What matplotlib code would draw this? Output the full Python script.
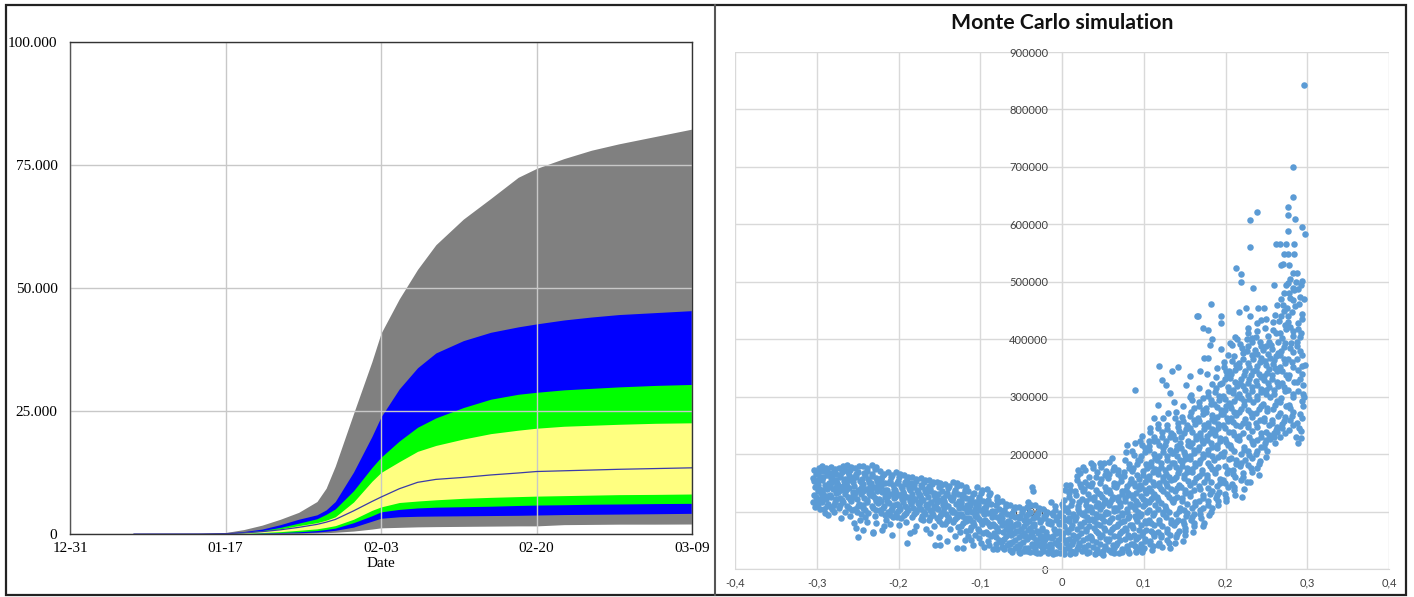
import numpy as np
import matplotlib
matplotlib.use("Agg")
import matplotlib.pyplot as plt
from matplotlib.patches import Rectangle
from matplotlib.lines import Line2D

# ---- left panel: sensitivity bands ----
days = [0, 7, 14, 17, 19, 21, 23, 25, 27, 28, 29, 31, 33, 34, 36, 38, 40, 43, 46, 49, 51, 54, 57, 60, 64, 68]
date_ticks = [0, 17, 34, 51, 68]
date_labels = ["12-31", "01-17", "02-03", "02-20", "03-09"]

gray_hi = [0, 0, 60, 300, 900, 1800, 3000, 4400, 6600, 9300, 13800, 24500, 35000, 40800, 47800, 53800, 58800,
           64000, 68200, 72500, 74300, 76300, 78000, 79300, 80800, 82300]
blue_hi = [0, 0, 40, 170, 500, 1000, 1900, 3000, 3900, 4900, 6600, 12600, 19800, 23800, 29500, 33800, 36800,
           39300, 41000, 42100, 42700, 43500, 44100, 44600, 45000, 45400]
green_hi = [0, 0, 30, 120, 350, 700, 1350, 2200, 3100, 4000, 5100, 8800, 13500, 15600, 18900, 21700, 23600,
            25700, 27400, 28400, 28800, 29300, 29600, 29900, 30200, 30400]
yellow_hi = [0, 0, 20, 90, 280, 560, 1050, 1700, 2300, 2800, 3500, 6500, 10700, 12500, 14700, 16800, 18000,
             19300, 20400, 21100, 21500, 21900, 22100, 22300, 22500, 22600]
median = [0, 0, 15, 70, 230, 480, 850, 1350, 1950, 2400, 2950, 4700, 6600, 7500, 9200, 10500, 11100,
          11500, 12000, 12400, 12700, 12850, 13000, 13150, 13300, 13450]
yellow_lo = [0, 0, 8, 40, 140, 300, 480, 750, 1050, 1350, 1700, 3000, 4800, 5500, 6400, 6700, 6950,
             7250, 7450, 7600, 7700, 7800, 7900, 8000, 8050, 8130]
green_lo = [0, 0, 5, 25, 80, 180, 300, 450, 700, 920, 1200, 2300, 3700, 4500, 5000, 5300, 5450,
            5550, 5650, 5800, 5880, 5950, 6050, 6100, 6180, 6230]
blue_lo = [0, 0, 2, 10, 40, 90, 160, 250, 400, 560, 750, 1400, 2600, 3200, 3500, 3600, 3650,
           3700, 3750, 3800, 3860, 3950, 4000, 4050, 4120, 4200]
gray_lo = [0, 0, 0, 0, 5, 20, 50, 100, 200, 270, 350, 600, 1000, 1250, 1350, 1450, 1500,
           1550, 1600, 1650, 1650, 1900, 1950, 2000, 2000, 2030]

# ---- right panel: Monte Carlo scatter, (x, y in thousands) ----
left_arm = [
    (-0.303,172),(-0.301,165),(-0.304,158),(-0.300,150),(-0.302,143),(-0.299,136),(-0.303,128),(-0.300,121),
    (-0.298,114),(-0.302,108),(-0.297,176),(-0.296,161),(-0.298,147),(-0.295,132),(-0.297,118),(-0.300,112),
    (-0.293,180),(-0.291,171),(-0.288,163),(-0.294,155),(-0.290,146),(-0.287,139),(-0.292,130),(-0.289,122),
    (-0.286,113),(-0.291,105),(-0.286,94),(-0.288,174),(-0.285,150),(-0.293,137),(-0.287,127),
    (-0.283,178),(-0.279,170),(-0.281,162),(-0.277,155),(-0.284,147),(-0.280,140),(-0.276,133),(-0.282,125),
    (-0.278,117),(-0.283,108),(-0.279,100),(-0.276,166),(-0.281,152),(-0.277,121),
    (-0.273,176),(-0.269,168),(-0.272,160),(-0.267,153),(-0.274,146),(-0.270,138),(-0.266,131),(-0.271,124),
    (-0.268,116),(-0.273,107),(-0.266,99),(-0.270,88),(-0.265,172),(-0.268,144),
    (-0.263,181),(-0.259,172),(-0.261,164),(-0.257,157),(-0.264,149),(-0.260,141),(-0.256,134),(-0.262,126),
    (-0.258,118),(-0.263,110),(-0.257,102),(-0.259,93),(-0.255,80),(-0.261,155),(-0.256,128),
    (-0.253,176),(-0.249,169),(-0.252,161),(-0.247,153),(-0.254,145),(-0.250,138),(-0.246,130),(-0.251,122),
    (-0.248,114),(-0.253,105),(-0.246,96),(-0.249,56),(-0.252,72),(-0.247,85),(-0.245,148),
    (-0.243,179),(-0.239,171),(-0.241,163),(-0.237,156),(-0.244,148),(-0.240,140),(-0.236,132),(-0.242,124),
    (-0.238,116),(-0.243,107),(-0.237,98),(-0.243,68),(-0.239,82),(-0.241,90),(-0.235,144),
    (-0.233,181),(-0.229,174),(-0.232,166),(-0.227,158),(-0.234,150),(-0.230,142),(-0.226,135),(-0.231,127),
    (-0.228,119),(-0.233,110),(-0.227,102),(-0.231,65),(-0.227,80),(-0.229,92),(-0.225,147),(-0.231,62),
    (-0.223,170),(-0.219,163),(-0.221,156),(-0.217,149),(-0.224,141),(-0.220,134),(-0.216,126),(-0.222,118),
    (-0.218,110),(-0.223,102),(-0.217,94),(-0.220,68),(-0.218,74),(-0.215,85),(-0.221,145),
    (-0.213,168),(-0.209,160),(-0.211,153),(-0.207,146),(-0.214,138),(-0.210,131),(-0.206,123),(-0.212,115),
    (-0.208,107),(-0.213,99),(-0.207,90),(-0.208,59),(-0.211,78),(-0.205,140),
    (-0.203,168),(-0.199,161),(-0.201,153),(-0.197,145),(-0.204,137),(-0.200,129),(-0.196,121),(-0.202,113),
    (-0.198,105),(-0.203,97),(-0.197,88),(-0.202,91),(-0.199,76),(-0.195,134),
    (-0.193,163),(-0.189,156),(-0.191,148),(-0.187,141),(-0.194,133),(-0.190,125),(-0.186,118),(-0.192,110),
    (-0.188,102),(-0.193,94),(-0.190,45),(-0.186,62),(-0.191,82),(-0.185,150),
    (-0.183,160),(-0.179,153),(-0.181,146),(-0.177,138),(-0.184,130),(-0.180,122),(-0.176,115),(-0.182,107),
    (-0.178,99),(-0.183,90),(-0.178,74),(-0.181,66),(-0.175,128),
    (-0.173,158),(-0.169,151),(-0.171,143),(-0.167,136),(-0.174,128),(-0.170,120),(-0.166,112),(-0.172,104),
    (-0.168,96),(-0.173,87),(-0.170,85),(-0.166,70),(-0.165,140),
    (-0.163,155),(-0.159,148),(-0.161,140),(-0.157,133),(-0.164,125),(-0.160,117),(-0.156,110),(-0.162,102),
    (-0.158,94),(-0.163,85),(-0.161,62),(-0.157,75),(-0.155,42),(-0.155,121),
    (-0.153,152),(-0.149,150),(-0.151,142),(-0.147,135),(-0.154,127),(-0.150,120),(-0.146,112),(-0.152,104),
    (-0.148,96),(-0.153,88),(-0.147,79),(-0.149,42),(-0.151,55),(-0.145,115),
    (-0.143,148),(-0.139,141),(-0.141,133),(-0.137,126),(-0.144,118),(-0.140,110),(-0.136,103),(-0.142,95),
    (-0.138,87),(-0.143,78),(-0.137,70),(-0.141,48),(-0.135,120),
    (-0.133,152),(-0.129,145),(-0.131,137),(-0.127,130),(-0.134,122),(-0.130,114),(-0.126,107),(-0.132,99),
    (-0.128,91),(-0.133,82),(-0.127,73),(-0.129,36),(-0.131,58),(-0.125,64),
    (-0.123,146),(-0.119,138),(-0.121,130),(-0.117,123),(-0.124,115),(-0.120,107),(-0.116,100),(-0.122,92),
    (-0.118,84),(-0.123,75),(-0.117,66),(-0.121,36),(-0.119,50),(-0.115,57),
    (-0.115,135),(-0.109,130),(-0.111,123),(-0.107,116),(-0.114,108),(-0.110,100),(-0.106,93),(-0.112,85),
    (-0.108,77),(-0.113,68),(-0.107,60),(-0.111,51),(-0.109,42),(-0.105,112),
    (-0.104,142),(-0.099,133),(-0.101,125),(-0.097,118),(-0.103,110),(-0.100,102),(-0.096,95),(-0.102,87),
    (-0.098,79),(-0.103,70),(-0.097,62),(-0.101,54),(-0.099,45),(-0.095,38),
    (-0.092,139),(-0.089,128),(-0.091,120),(-0.087,113),(-0.094,105),(-0.090,97),(-0.086,90),(-0.092,82),
    (-0.088,74),(-0.093,65),(-0.087,57),(-0.091,49),(-0.089,41),(-0.085,35),
    (-0.080,120),(-0.079,125),(-0.081,112),(-0.077,105),(-0.084,98),(-0.080,90),(-0.076,83),(-0.082,75),
    (-0.078,67),(-0.083,59),(-0.077,51),(-0.081,43),(-0.079,35),(-0.075,94),
    (-0.073,118),(-0.069,110),(-0.071,103),(-0.067,96),(-0.074,88),(-0.070,80),(-0.066,73),(-0.072,65),
    (-0.068,57),(-0.073,49),(-0.067,41),(-0.071,34),(-0.065,62),
    (-0.063,112),(-0.059,105),(-0.061,97),(-0.057,90),(-0.064,82),(-0.060,74),(-0.056,67),(-0.062,59),
    (-0.058,51),(-0.063,43),(-0.057,36),(-0.061,30),(-0.055,78),
    (-0.053,108),(-0.049,100),(-0.051,93),(-0.047,86),(-0.054,78),(-0.050,70),(-0.046,63),(-0.052,55),
    (-0.048,47),(-0.053,39),(-0.047,32),(-0.051,28),(-0.045,58),
]

left_arm_fill = [
    (-0.299,168),(-0.303,154),(-0.297,140),(-0.301,125),(-0.304,117),(-0.296,104),(-0.298,155),(-0.295,170),
    (-0.289,176),(-0.292,160),(-0.286,143),(-0.294,126),(-0.288,110),(-0.290,98),(-0.285,167),(-0.293,117),
    (-0.278,174),(-0.282,158),(-0.276,143),(-0.284,129),(-0.279,112),(-0.281,104),(-0.275,150),(-0.283,166),
    (-0.268,180),(-0.271,164),(-0.266,149),(-0.274,134),(-0.269,120),(-0.272,112),(-0.265,157),(-0.273,141),
    (-0.258,177),(-0.262,168),(-0.256,152),(-0.264,137),(-0.259,122),(-0.261,106),(-0.255,160),(-0.263,145),
    (-0.248,180),(-0.252,165),(-0.246,141),(-0.254,126),(-0.249,110),(-0.251,100),(-0.245,157),(-0.253,133),
    (-0.238,175),(-0.242,167),(-0.236,151),(-0.244,136),(-0.239,120),(-0.241,103),(-0.235,128),(-0.243,112),
    (-0.228,177),(-0.232,162),(-0.226,154),(-0.234,138),(-0.229,123),(-0.231,106),(-0.225,115),(-0.233,131),
    (-0.218,166),(-0.222,159),(-0.216,138),(-0.224,122),(-0.219,106),(-0.221,98),(-0.215,130),(-0.223,152),
    (-0.208,164),(-0.212,149),(-0.206,134),(-0.214,119),(-0.209,103),(-0.211,94),(-0.205,111),(-0.213,127),
    (-0.198,165),(-0.202,149),(-0.196,141),(-0.204,125),(-0.199,109),(-0.201,101),(-0.195,117),(-0.203,133),
    (-0.188,160),(-0.192,152),(-0.186,137),(-0.194,121),(-0.189,106),(-0.191,98),(-0.185,114),(-0.193,129),
    (-0.178,157),(-0.182,142),(-0.176,134),(-0.184,118),(-0.179,103),(-0.181,95),(-0.175,111),(-0.183,126),
    (-0.168,155),(-0.172,147),(-0.166,132),(-0.174,116),(-0.169,100),(-0.171,92),(-0.165,108),(-0.173,124),
    (-0.158,152),(-0.162,136),(-0.156,129),(-0.164,113),(-0.159,98),(-0.161,90),(-0.155,106),(-0.163,144),
    (-0.148,146),(-0.152,131),(-0.146,124),(-0.154,108),(-0.149,92),(-0.151,84),(-0.145,100),(-0.153,116),
    (-0.138,145),(-0.142,129),(-0.136,122),(-0.144,106),(-0.139,91),(-0.141,83),(-0.135,99),(-0.143,114),
    (-0.128,149),(-0.132,133),(-0.126,118),(-0.134,103),(-0.129,95),(-0.131,87),(-0.125,110),(-0.133,126),
    (-0.118,142),(-0.122,127),(-0.116,111),(-0.124,96),(-0.119,88),(-0.121,80),(-0.115,104),(-0.123,119),
    (-0.108,133),(-0.112,119),(-0.106,104),(-0.114,89),(-0.109,81),(-0.111,73),(-0.105,96),(-0.113,112),
    (-0.098,137),(-0.102,121),(-0.096,106),(-0.104,91),(-0.099,83),(-0.101,66),(-0.095,98),(-0.103,114),
    (-0.088,133),(-0.092,116),(-0.086,101),(-0.094,86),(-0.089,78),(-0.091,61),(-0.085,94),(-0.093,109),
    (-0.078,116),(-0.082,101),(-0.076,87),(-0.084,79),(-0.079,71),(-0.081,55),(-0.075,47),(-0.083,63),
    (-0.068,114),(-0.072,99),(-0.066,84),(-0.074,76),(-0.069,69),(-0.071,53),(-0.065,45),(-0.073,38),
    (-0.058,108),(-0.062,93),(-0.056,78),(-0.064,70),(-0.059,63),(-0.061,47),(-0.055,40),(-0.063,33),
    (-0.048,104),(-0.052,89),(-0.046,74),(-0.054,66),(-0.049,59),(-0.051,43),(-0.045,36),(-0.053,30),
]

valley = [
    (-0.037,143),(-0.036,135),(-0.041,117),(-0.043,108),(-0.039,100),(-0.044,92),(-0.040,84),(-0.036,76),
    (-0.042,68),(-0.038,60),(-0.043,52),(-0.037,44),(-0.041,36),(-0.039,29),(-0.035,55),
    (-0.033,112),(-0.029,98),(-0.031,90),(-0.027,82),(-0.034,74),(-0.030,66),(-0.026,58),(-0.032,50),
    (-0.028,42),(-0.033,34),(-0.027,28),(-0.031,27),(-0.025,46),
    (-0.023,104),(-0.019,96),(-0.021,88),(-0.017,80),(-0.024,72),(-0.020,64),(-0.016,56),(-0.022,48),
    (-0.018,40),(-0.023,32),(-0.017,27),(-0.015,36),
    (-0.013,117),(-0.009,102),(-0.011,94),(-0.007,86),(-0.014,78),(-0.010,70),(-0.006,62),(-0.012,54),
    (-0.008,46),(-0.013,38),(-0.007,30),(-0.011,26),(-0.005,42),
    (-0.003,98),(0.001,90),(-0.001,82),(0.003,74),(-0.004,66),(0.000,58),(0.004,50),(-0.002,42),
    (0.002,34),(-0.003,28),(0.003,26),(0.005,146),(0.004,138),(0.002,120),(0.001,108),
    (0.010,146),(0.010,138),(0.008,125),(0.011,112),(0.007,100),(0.013,92),(0.009,84),(0.012,76),
    (0.006,68),(0.014,60),(0.008,52),(0.012,44),(0.007,36),(0.013,29),(0.010,26),
    (0.020,172),(0.022,167),(0.018,155),(0.023,142),(0.017,128),(0.021,116),(0.019,104),(0.024,95),
    (0.016,86),(0.022,78),(0.018,70),(0.023,62),(0.017,54),(0.021,46),(0.019,38),(0.024,31),(0.016,27),
    (0.026,178),(0.028,152),(0.033,160),(0.027,140),(0.032,130),(0.029,118),(0.034,108),(0.026,98),
    (0.031,90),(0.027,82),(0.033,74),(0.029,66),(0.034,58),(0.026,50),(0.032,42),(0.028,34),(0.031,27),
    (0.036,184),(0.038,181),(0.046,184),(0.043,168),(0.037,150),(0.042,138),(0.039,126),(0.044,115),
    (0.036,104),(0.041,95),(0.037,87),(0.043,79),(0.039,71),(0.044,63),(0.036,55),(0.042,47),(0.038,39),
    (0.043,31),(0.040,26),
    (0.051,184),(0.054,170),(0.048,156),(0.053,142),(0.047,130),(0.052,120),(0.049,110),(0.054,100),
    (0.046,92),(0.051,84),(0.047,76),(0.053,68),(0.049,60),(0.054,52),(0.046,44),(0.052,36),(0.048,28),
    (0.050,25),
]

valley_fill = [
    (-0.038,112),(-0.042,96),(-0.036,88),(-0.044,80),(-0.039,72),(-0.041,56),(-0.035,40),(-0.043,32),(-0.037,64),
    (-0.028,106),(-0.032,94),(-0.026,86),(-0.034,78),(-0.029,62),(-0.031,46),(-0.025,38),(-0.033,30),(-0.027,54),
    (-0.018,100),(-0.022,92),(-0.016,84),(-0.024,68),(-0.019,60),(-0.021,52),(-0.015,44),(-0.023,36),(-0.017,30),
    (-0.008,110),(-0.012,98),(-0.006,90),(-0.014,82),(-0.009,66),(-0.011,58),(-0.005,50),(-0.013,34),(-0.007,28),
    (0.002,102),(-0.002,94),(0.004,86),(-0.004,78),(0.001,62),(-0.001,54),(0.005,46),(-0.003,38),(0.003,30),
    (0.000,114),
    (0.008,132),(0.012,118),(0.006,106),(0.014,96),(0.009,88),(0.011,72),(0.007,64),(0.013,48),(0.009,40),
    (0.011,32),
    (0.018,162),(0.022,148),(0.016,135),(0.024,122),(0.019,110),(0.021,100),(0.017,90),(0.023,74),(0.019,58),
    (0.021,42),(0.018,34),
    (0.028,172),(0.032,146),(0.026,135),(0.034,124),(0.029,112),(0.031,102),(0.027,94),(0.033,86),(0.029,70),
    (0.031,54),(0.027,38),(0.033,30),
    (0.038,176),(0.042,160),(0.036,144),(0.044,132),(0.039,120),(0.041,110),(0.037,100),(0.043,91),(0.039,83),
    (0.041,67),(0.037,51),(0.043,35),(0.041,28),
    (0.048,178),(0.052,164),(0.046,150),(0.054,136),(0.049,125),(0.051,115),(0.047,105),(0.053,96),(0.049,88),
    (0.051,72),(0.047,56),(0.053,40),(0.050,31),
]

right_arm = [
    (0.061,193),(0.063,178),(0.058,165),(0.064,150),(0.057,138),(0.062,126),(0.059,116),(0.064,106),
    (0.056,97),(0.061,89),(0.057,81),(0.063,73),(0.059,65),(0.064,57),(0.056,49),(0.062,41),(0.058,33),(0.063,27),
    (0.069,172),(0.072,160),(0.067,148),(0.073,136),(0.068,125),(0.071,115),(0.066,106),(0.074,98),
    (0.069,90),(0.072,82),(0.067,74),(0.073,66),(0.068,58),(0.071,50),(0.066,42),(0.074,34),(0.070,27),
    (0.079,216),(0.077,190),(0.082,176),(0.076,162),(0.083,150),(0.078,138),(0.081,128),(0.077,118),
    (0.084,109),(0.079,100),(0.082,92),(0.076,84),(0.083,76),(0.078,68),(0.081,60),(0.077,52),(0.084,44),
    (0.079,36),(0.082,28),
    (0.089,311),(0.089,219),(0.086,205),(0.093,190),(0.087,176),(0.092,163),(0.088,150),(0.094,139),
    (0.086,128),(0.091,118),(0.087,109),(0.093,100),(0.089,92),(0.092,84),(0.086,76),(0.094,68),(0.088,60),
    (0.091,52),(0.087,44),(0.093,36),(0.090,29),
    (0.095,222),(0.098,232),(0.102,210),(0.097,196),(0.103,183),(0.099,170),(0.104,158),(0.096,147),
    (0.101,137),(0.097,127),(0.103,118),(0.099,109),(0.104,100),(0.096,92),(0.101,84),(0.097,76),(0.103,68),
    (0.098,60),(0.102,52),(0.097,44),(0.100,36),(0.098,30),
    (0.106,222),(0.112,263),(0.108,245),(0.113,230),(0.107,214),(0.112,200),(0.109,187),(0.114,174),
    (0.106,162),(0.111,151),(0.107,141),(0.113,131),(0.109,121),(0.114,112),(0.106,103),(0.111,94),(0.107,85),
    (0.113,76),(0.109,67),(0.112,58),(0.108,49),(0.111,40),(0.110,33),
    (0.119,354),(0.122,329),(0.118,285),(0.123,262),(0.117,245),(0.122,230),(0.119,216),(0.124,203),
    (0.116,190),(0.121,178),(0.117,166),(0.123,155),(0.119,145),(0.124,135),(0.116,125),(0.121,115),(0.117,105),
    (0.123,95),(0.119,85),(0.122,75),(0.118,65),(0.121,55),(0.119,45),(0.122,38),
    (0.127,321),(0.132,306),(0.130,271),(0.134,345),(0.128,250),(0.133,236),(0.127,222),(0.132,208),
    (0.129,196),(0.134,184),(0.126,172),(0.131,161),(0.127,150),(0.133,140),(0.129,130),(0.134,120),(0.126,110),
    (0.131,100),(0.127,90),(0.133,80),(0.129,70),(0.132,60),(0.128,50),(0.132,36),
    (0.142,352),(0.139,274),(0.142,255),(0.137,290),(0.143,240),(0.138,226),(0.141,214),(0.136,202),
    (0.144,190),(0.139,178),(0.142,167),(0.137,156),(0.143,146),(0.138,136),(0.141,126),(0.136,116),(0.144,106),
    (0.139,96),(0.142,86),(0.137,76),(0.143,66),(0.140,56),(0.138,46),
    (0.148,284),(0.148,48),(0.156,300),(0.152,320),(0.147,265),(0.153,250),(0.149,236),(0.154,222),
    (0.146,210),(0.151,198),(0.147,186),(0.153,175),(0.149,164),(0.154,153),(0.146,143),(0.151,133),(0.147,123),
    (0.153,113),(0.149,103),(0.152,93),(0.148,83),(0.151,72),(0.150,60),
    (0.159,294),(0.157,336),(0.158,303),(0.165,441),(0.162,280),(0.157,266),(0.163,252),(0.159,239),
    (0.164,226),(0.156,214),(0.161,202),(0.157,191),(0.163,180),(0.159,169),(0.164,158),(0.156,147),(0.161,137),
    (0.157,127),(0.163,117),(0.159,107),(0.162,96),(0.158,86),(0.161,75),(0.160,64),
    (0.166,441),(0.169,345),(0.167,315),(0.173,419),(0.174,368),(0.173,298),(0.168,284),(0.172,270),
    (0.167,257),(0.174,244),(0.169,231),(0.172,219),(0.166,207),(0.173,195),(0.168,184),(0.171,173),(0.167,162),
    (0.174,151),(0.169,140),(0.172,129),(0.167,118),(0.173,107),(0.169,96),(0.174,80),(0.173,74),(0.170,88),
    (0.178,416),(0.179,368),(0.181,390),(0.182,461),(0.184,400),(0.177,340),(0.183,322),(0.178,308),
    (0.182,294),(0.176,281),(0.183,268),(0.179,255),(0.184,243),(0.177,231),(0.182,219),(0.178,207),(0.183,196),
    (0.179,185),(0.184,174),(0.177,163),(0.182,152),(0.178,141),(0.181,130),(0.179,118),(0.183,106),(0.180,94),
    (0.194,440),(0.195,429),(0.195,383),(0.190,350),(0.188,335),(0.193,322),(0.187,308),(0.192,295),
    (0.189,282),(0.194,270),(0.186,258),(0.191,246),(0.187,234),(0.193,222),(0.189,211),(0.194,200),(0.186,189),
    (0.191,178),(0.187,167),(0.193,156),(0.189,145),(0.192,134),(0.188,123),(0.191,112),
    (0.200,344),(0.205,393),(0.203,372),(0.198,360),(0.204,345),(0.199,330),(0.203,316),(0.197,302),
    (0.204,289),(0.199,276),(0.202,263),(0.197,251),(0.204,239),(0.199,227),(0.203,215),(0.198,203),(0.204,191),
    (0.199,179),(0.202,167),(0.197,155),(0.203,143),(0.199,131),(0.201,118),
    (0.213,524),(0.212,403),(0.210,370),(0.214,400),(0.208,390),(0.213,355),(0.207,340),(0.212,326),
    (0.209,312),(0.214,299),(0.206,286),(0.211,274),(0.207,262),(0.213,250),(0.209,238),(0.214,227),(0.206,216),
    (0.211,205),(0.207,194),(0.213,183),(0.209,172),(0.212,160),(0.208,148),(0.212,128),(0.210,138),
    (0.219,513),(0.219,500),(0.216,447),(0.225,455),(0.226,400),(0.220,385),(0.222,366),(0.217,352),
    (0.223,338),(0.218,324),(0.224,311),(0.219,298),(0.223,285),(0.217,273),(0.224,261),(0.218,249),(0.222,237),
    (0.217,225),(0.223,213),(0.219,201),(0.224,190),(0.218,179),(0.221,167),(0.219,155),(0.223,140),(0.220,126),
    (0.230,608),(0.230,561),(0.234,490),(0.230,440),(0.227,420),(0.233,402),(0.228,388),(0.232,372),
    (0.227,358),(0.234,344),(0.229,330),(0.233,316),(0.228,303),(0.234,290),(0.227,277),(0.232,265),(0.228,253),
    (0.233,241),(0.229,229),(0.234,217),(0.227,205),(0.232,193),(0.228,181),(0.233,169),(0.230,152),(0.226,152),
    (0.239,621),(0.238,428),(0.240,454),(0.243,433),(0.237,403),(0.243,388),(0.238,374),(0.242,360),
    (0.237,347),(0.244,334),(0.239,321),(0.243,308),(0.238,296),(0.244,284),(0.237,272),(0.242,260),(0.238,248),
    (0.243,236),(0.239,224),(0.244,212),(0.237,200),(0.242,188),(0.239,176),(0.241,164),
    (0.249,435),(0.247,454),(0.253,396),(0.250,388),(0.247,213),(0.252,375),(0.248,362),(0.253,349),
    (0.247,336),(0.252,323),(0.249,311),(0.254,299),(0.246,287),(0.251,275),(0.247,263),(0.253,251),(0.249,239),
    (0.254,227),(0.248,219),(0.251,205),(0.250,195),
    (0.259,494),(0.262,566),(0.260,443),(0.263,460),(0.258,416),(0.264,396),(0.257,383),(0.262,370),
    (0.258,357),(0.263,344),(0.257,331),(0.264,318),(0.259,305),(0.263,292),(0.258,279),(0.264,266),(0.257,254),
    (0.262,242),(0.259,230),(0.263,238),(0.261,220),
    (0.267,566),(0.268,530),(0.270,531),(0.272,548),(0.270,460),(0.274,495),(0.267,230),(0.272,480),
    (0.268,440),(0.273,425),(0.267,410),(0.273,394),(0.268,380),(0.272,366),(0.267,352),(0.274,338),(0.269,324),
    (0.273,310),(0.268,297),(0.274,284),(0.267,271),(0.272,258),(0.269,246),(0.273,236),
    (0.283,699),(0.282,647),(0.277,631),(0.276,617),(0.285,610),(0.276,588),(0.274,566),(0.284,566),
    (0.276,548),(0.284,548),(0.279,505),(0.282,490),(0.286,500),(0.278,480),(0.275,454),(0.279,422),(0.282,415),
    (0.283,469),(0.285,457),(0.280,393),(0.277,440),(0.282,378),(0.277,365),(0.283,352),(0.278,338),(0.284,325),
    (0.277,312),(0.282,299),(0.278,286),(0.283,273),(0.279,260),(0.278,242),(0.282,250),
    (0.296,842),(0.294,596),(0.297,583),(0.293,502),(0.289,488),(0.291,474),(0.294,444),(0.289,428),
    (0.296,470),(0.292,410),(0.297,355),(0.294,354),(0.288,395),(0.291,380),(0.287,365),(0.293,340),(0.288,325),
    (0.293,293),(0.295,283),(0.289,310),(0.291,270),(0.288,255),(0.292,240),(0.289,219),(0.286,230),(0.295,320),
    (0.296,300),
]

right_arm_fill = [
    (0.058,186),(0.062,172),(0.056,158),(0.064,144),(0.059,132),(0.061,121),(0.057,111),(0.063,101),(0.059,85),
    (0.061,69),(0.057,53),(0.063,37),(0.060,30),
    (0.068,166),(0.072,154),(0.066,142),(0.074,130),(0.069,120),(0.071,110),(0.067,102),(0.073,94),(0.069,78),
    (0.071,62),(0.067,46),(0.073,30),
    (0.078,203),(0.082,183),(0.076,169),(0.084,156),(0.079,144),(0.081,133),(0.077,123),(0.083,113),(0.079,104),
    (0.081,88),(0.077,72),(0.083,56),(0.079,40),(0.081,31),
    (0.088,198),(0.092,183),(0.086,170),(0.094,157),(0.089,144),(0.091,133),(0.087,123),(0.093,113),(0.089,104),
    (0.091,88),(0.087,72),(0.093,56),(0.089,40),(0.091,32),
    (0.098,216),(0.102,203),(0.096,190),(0.104,176),(0.099,164),(0.101,152),(0.097,142),(0.103,132),(0.099,122),
    (0.101,113),(0.097,96),(0.103,80),(0.099,64),(0.101,48),(0.099,34),
    (0.108,238),(0.112,222),(0.106,207),(0.114,193),(0.109,180),(0.111,168),(0.107,156),(0.113,146),(0.109,136),
    (0.111,126),(0.107,116),(0.113,98),(0.109,80),(0.111,62),(0.108,44),
    (0.118,252),(0.122,238),(0.116,223),(0.124,210),(0.119,197),(0.121,184),(0.117,172),(0.123,160),(0.119,150),
    (0.121,140),(0.117,120),(0.123,100),(0.119,80),(0.121,60),(0.118,42),
    (0.128,243),(0.132,229),(0.126,215),(0.134,202),(0.129,190),(0.131,178),(0.127,166),(0.133,155),(0.129,145),
    (0.131,125),(0.127,105),(0.133,85),(0.129,65),(0.131,45),
    (0.138,262),(0.142,248),(0.136,233),(0.144,220),(0.139,208),(0.141,196),(0.137,184),(0.143,172),(0.139,161),
    (0.141,141),(0.137,121),(0.143,101),(0.139,81),(0.141,61),
    (0.148,258),(0.152,243),(0.146,229),(0.154,216),(0.149,204),(0.151,192),(0.147,180),(0.153,169),(0.149,158),
    (0.151,138),(0.147,118),(0.153,98),(0.149,78),(0.151,66),
    (0.158,273),(0.162,259),(0.156,245),(0.164,232),(0.159,220),(0.161,208),(0.157,196),(0.163,185),(0.159,174),
    (0.161,152),(0.157,132),(0.163,112),(0.159,91),(0.161,80),
    (0.168,291),(0.172,277),(0.166,263),(0.174,250),(0.169,237),(0.171,225),(0.167,213),(0.173,201),(0.169,189),
    (0.171,167),(0.167,145),(0.173,124),(0.169,102),
    (0.178,301),(0.182,287),(0.176,274),(0.184,261),(0.179,249),(0.181,237),(0.177,225),(0.183,213),(0.179,201),
    (0.181,180),(0.177,158),(0.183,135),(0.179,112),(0.182,100),
    (0.188,315),(0.192,301),(0.186,288),(0.194,276),(0.189,264),(0.191,252),(0.187,240),(0.193,228),(0.189,216),
    (0.191,195),(0.187,173),(0.193,150),(0.189,128),(0.191,118),
    (0.198,352),(0.202,337),(0.196,323),(0.204,309),(0.199,296),(0.201,283),(0.197,270),(0.203,257),(0.199,245),
    (0.201,221),(0.197,197),(0.203,173),(0.199,149),(0.201,124),
    (0.208,362),(0.212,347),(0.206,333),(0.214,319),(0.209,306),(0.211,293),(0.207,280),(0.213,268),(0.209,256),
    (0.211,233),(0.207,211),(0.213,189),(0.209,166),(0.211,143),
    (0.218,392),(0.222,376),(0.216,359),(0.224,345),(0.219,331),(0.221,318),(0.217,305),(0.223,292),(0.219,279),
    (0.221,255),(0.217,231),(0.223,207),(0.219,185),(0.221,160),
    (0.228,411),(0.232,395),(0.226,380),(0.234,365),(0.229,351),(0.231,337),(0.227,323),(0.233,309),(0.229,296),
    (0.231,271),(0.227,247),(0.233,223),(0.229,199),(0.231,175),
    (0.238,415),(0.242,395),(0.236,381),(0.244,367),(0.239,354),(0.241,340),(0.237,327),(0.243,314),(0.239,302),
    (0.241,278),(0.237,254),(0.243,230),(0.239,206),(0.241,182),
    (0.248,420),(0.252,405),(0.246,382),(0.254,368),(0.249,355),(0.251,342),(0.247,329),(0.253,317),(0.249,305),
    (0.251,281),(0.247,257),(0.253,233),(0.249,225),
    (0.258,430),(0.262,410),(0.256,390),(0.264,376),(0.259,363),(0.261,350),(0.257,337),(0.263,325),(0.259,312),
    (0.261,286),(0.257,260),(0.263,248),(0.259,236),
    (0.268,470),(0.272,450),(0.266,432),(0.274,418),(0.269,402),(0.271,387),(0.267,373),(0.273,359),(0.269,345),
    (0.271,317),(0.267,290),(0.273,264),(0.269,252),
    (0.278,530),(0.282,515),(0.276,498),(0.284,486),(0.279,472),(0.281,448),(0.277,430),(0.283,406),(0.279,385),
    (0.281,360),(0.277,332),(0.283,305),(0.279,280),(0.281,266),
    (0.288,515),(0.292,495),(0.290,462),(0.294,436),(0.289,418),(0.291,404),(0.287,388),(0.293,372),(0.289,346),
    (0.291,330),(0.295,305),(0.293,262),(0.290,245),(0.292,228),
]

x_ticks = [-0.4, -0.3, -0.2, -0.1, 0.0, 0.1, 0.2, 0.3, 0.4]
y_ticks = [0, 100000, 200000, 300000, 400000, 500000, 600000, 700000, 800000, 900000]

W, H = 1414, 597
fig = plt.figure(figsize=(W / 100, H / 100), dpi=100)


def box(l, t, r, b):
    return [l / W, 1 - b / H, (r - l) / W, (b - t) / H]


serif = "Liberation Serif"

# left chart
ax = fig.add_axes(box(70, 42, 692, 534))
ax.fill_between(days, gray_lo, gray_hi, color="#808080", lw=0)
ax.fill_between(days, blue_lo, blue_hi, color="#0000FF", lw=0)
ax.fill_between(days, green_lo, green_hi, color="#00FF00", lw=0)
ax.fill_between(days, yellow_lo, yellow_hi, color="#FFFF80", lw=0)
ax.plot(days[1:], median[1:], color="#3B3BA8", lw=0.9, zorder=3)
ax.set_xlim(0, 68)
ax.set_ylim(0, 100000)
ax.set_xticks(date_ticks)
ax.set_xticklabels(date_labels, family=serif, fontsize=11)
ax.set_yticks([0, 25000, 50000, 75000, 100000])
ax.set_yticklabels(["0", "25.000", "50.000", "75.000", "100.000"], family=serif, fontsize=11)
ax.tick_params(length=0)
ax.tick_params(axis="x", pad=6)
ax.tick_params(axis="y", pad=9)
ax.set_axisbelow(False)
ax.grid(True, color="#C8C8C8", lw=1)
for s in ax.spines.values():
    s.set_color("#333333")
    s.set_linewidth(1)
    s.set_zorder(4)
ax.spines["left"].set_color("#555555")
ax.set_xlabel("Date", family=serif, fontsize=11, labelpad=1)

# right chart
pts = np.array(left_arm + left_arm_fill + valley + valley_fill + right_arm + right_arm_fill)
ax2 = fig.add_axes(box(735, 52, 1389, 569))
# move the y axis first: it rebuilds the ticks
ax2.spines["left"].set_position(("data", 0))
ax2.spines["left"].set_color("#D9D9D9")
ax2.spines["bottom"].set_color("#D9D9D9")
ax2.spines["top"].set_visible(False)
ax2.spines["right"].set_visible(False)
ax2.scatter(pts[:, 0], pts[:, 1] * 1000, s=22, color="#5B9BD5", lw=0, zorder=2)
ax2.set_xlim(-0.4, 0.4)
ax2.set_ylim(0, 900000)
ax2.set_xticks(x_ticks)
ax2.set_xticklabels([("%.1f" % v).replace(".", ",") if v != 0 else "0" for v in x_ticks],
                    family="Lato", fontsize=8, color="#404040")
ax2.set_yticks(y_ticks)
ax2.set_yticklabels([str(v) for v in y_ticks], family="Lato", fontsize=8, color="#404040")
ax2.set_axisbelow(True)
ax2.grid(True, color="#D9D9D9", lw=1)
ax2.tick_params(length=0)
ax2.tick_params(axis="y", pad=10)
ax2.tick_params(axis="x", pad=6)
fig.text(1062 / W, 1 - 23 / H, "Monte Carlo simulation", ha="center", va="center",
         family="Lato", fontweight="bold", fontsize=15.3, color="#111111")

# frames around both panels
fig.add_artist(Rectangle((6 / W, 1 - 595 / H), 1400 / W, 590 / H, transform=fig.transFigure,
                         fill=False, lw=1.6, ec="#222222"))
fig.add_artist(Line2D([715 / W, 715 / W], [1 - 595 / H, 1 - 5 / H], transform=fig.transFigure,
                      lw=1.5, color="#555555"))

fig.savefig("out.png", dpi=100)
